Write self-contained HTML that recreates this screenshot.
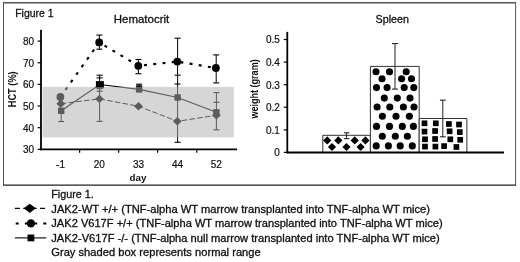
<!DOCTYPE html>
<html><head><meta charset="utf-8"><title>Figure 1</title>
<style>html,body{margin:0;padding:0;background:#fff;overflow:hidden}svg{display:block}text{font-family:"Liberation Sans",Arial,sans-serif;fill:#111}</style></head><body>
<svg width="520" height="262" viewBox="0 0 520 262">
<rect width="520" height="262" fill="#fff"/>
<path d="M3.5 185.2V2.9M515.6 2.9V185.2" fill="none" stroke="#555" stroke-width="1"/>
<path d="M3 185.2H516.1" fill="none" stroke="#222" stroke-width="1.2"/>
<path d="M3 2.7H516" fill="none" stroke="#555" stroke-width="1.4"/>
<text x="15.2" y="16.6" font-size="11" stroke="#111" stroke-width="0.3" textLength="38.4" lengthAdjust="spacingAndGlyphs">Figure 1</text>
<text x="113.8" y="22.7" font-size="11" stroke="#111" stroke-width="0.3" textLength="55.4" lengthAdjust="spacingAndGlyphs">Hematocrit</text>
<text x="375.6" y="22.7" font-size="11" stroke="#111" stroke-width="0.3" textLength="33.4" lengthAdjust="spacingAndGlyphs">Spleen</text>
<path d="M41.0 29.8V150.2" stroke="#000" stroke-width="1.8" fill="none"/>
<path d="M40.1 149.3H237" stroke="#000" stroke-width="1.8" fill="none"/>
<path d="M37.6 41.1H41.0" stroke="#000" stroke-width="1.2"/>
<text x="34" y="45.0" font-size="10" stroke="#111" stroke-width="0.2" text-anchor="end">80</text>
<path d="M37.6 62.8H41.0" stroke="#000" stroke-width="1.2"/>
<text x="34" y="66.7" font-size="10" stroke="#111" stroke-width="0.2" text-anchor="end">70</text>
<path d="M37.6 84.4H41.0" stroke="#000" stroke-width="1.2"/>
<text x="34" y="88.30000000000001" font-size="10" stroke="#111" stroke-width="0.2" text-anchor="end">60</text>
<path d="M37.6 106.0H41.0" stroke="#000" stroke-width="1.2"/>
<text x="34" y="109.9" font-size="10" stroke="#111" stroke-width="0.2" text-anchor="end">50</text>
<path d="M37.6 127.7H41.0" stroke="#000" stroke-width="1.2"/>
<text x="34" y="131.6" font-size="10" stroke="#111" stroke-width="0.2" text-anchor="end">40</text>
<path d="M37.6 149.3H41.0" stroke="#000" stroke-width="1.2"/>
<text x="34" y="153.20000000000002" font-size="10" stroke="#111" stroke-width="0.2" text-anchor="end">30</text>
<path d="M79.6 149.3V152.8" stroke="#000" stroke-width="1.2"/>
<path d="M118.7 149.3V152.8" stroke="#000" stroke-width="1.2"/>
<path d="M157.6 149.3V152.8" stroke="#000" stroke-width="1.2"/>
<path d="M196.8 149.3V152.8" stroke="#000" stroke-width="1.2"/>
<text x="60.5" y="168.2" font-size="10" stroke="#111" stroke-width="0.2" text-anchor="middle">-1</text>
<text x="99.3" y="168.2" font-size="10" stroke="#111" stroke-width="0.2" text-anchor="middle">20</text>
<text x="138.5" y="168.2" font-size="10" stroke="#111" stroke-width="0.2" text-anchor="middle">33</text>
<text x="177.5" y="168.2" font-size="10" stroke="#111" stroke-width="0.2" text-anchor="middle">44</text>
<text x="216.3" y="168.2" font-size="10" stroke="#111" stroke-width="0.2" text-anchor="middle">52</text>
<text x="138" y="181" font-size="9.8" font-weight="bold" text-anchor="middle">day</text>
<text transform="translate(16.2 107.3) rotate(-90)" font-size="10.2" font-weight="bold" textLength="36" lengthAdjust="spacingAndGlyphs">HCT (%)</text>
<path d="M99.4 35.1V49.2" stroke="#000" stroke-width="1" fill="none"/>
<path d="M96.4 35.1H102.4" stroke="#000" stroke-width="1.1" fill="none"/>
<path d="M96.4 49.2H102.4" stroke="#000" stroke-width="1.1" fill="none"/>
<path d="M138.4 59.5V73.7" stroke="#000" stroke-width="1" fill="none"/>
<path d="M135.4 59.5H141.4" stroke="#000" stroke-width="1.1" fill="none"/>
<path d="M135.4 73.7H141.4" stroke="#000" stroke-width="1.1" fill="none"/>
<path d="M177.6 38.2V142.3" stroke="#000" stroke-width="1" fill="none"/>
<path d="M174.6 38.2H180.6" stroke="#000" stroke-width="1.1" fill="none"/>
<path d="M174.6 75.2H180.6" stroke="#000" stroke-width="1.1" fill="none"/>
<path d="M174.6 84H180.6" stroke="#000" stroke-width="1.1" fill="none"/>
<path d="M174.6 142.3H180.6" stroke="#000" stroke-width="1.1" fill="none"/>
<path d="M216.2 54.9V82.9" stroke="#000" stroke-width="1" fill="none"/>
<path d="M213.2 54.9H219.2" stroke="#000" stroke-width="1.1" fill="none"/>
<path d="M213.2 82.9H219.2" stroke="#000" stroke-width="1.1" fill="none"/>
<path d="M61.2 110V121.5" stroke="#000" stroke-width="1" fill="none"/>
<path d="M58.2 121.5H64.2" stroke="#000" stroke-width="1.1" fill="none"/>
<path d="M99.6 75.3V121.4" stroke="#000" stroke-width="1" fill="none"/>
<path d="M96.6 75.2H102.6" stroke="#000" stroke-width="1.1" fill="none"/>
<path d="M96.6 77.9H102.6" stroke="#000" stroke-width="1.1" fill="none"/>
<path d="M96.6 88.7H102.6" stroke="#000" stroke-width="1.1" fill="none"/>
<path d="M96.6 91.2H102.6" stroke="#000" stroke-width="1.1" fill="none"/>
<path d="M96.6 121.4H102.6" stroke="#000" stroke-width="1.1" fill="none"/>
<path d="M139.1 84.2V89" stroke="#000" stroke-width="1" fill="none"/>
<path d="M136.1 84.2H142.1" stroke="#000" stroke-width="1.1" fill="none"/>
<path d="M136.1 85.8H142.1" stroke="#000" stroke-width="1.1" fill="none"/>
<path d="M216.4 92.6V129.8" stroke="#000" stroke-width="1" fill="none"/>
<path d="M213.4 92.6H219.4" stroke="#000" stroke-width="1.1" fill="none"/>
<path d="M213.4 102.3H219.4" stroke="#000" stroke-width="1.1" fill="none"/>
<path d="M213.4 129.8H219.4" stroke="#000" stroke-width="1.1" fill="none"/>
<polyline points="61.2,110.8 99.8,84.5 139.1,89.4 177.6,97.5 216.4,112.3" fill="none" stroke="#000" stroke-width="1.1"/>
<polyline points="60.8,103.7 99.4,98.9 138.5,106.2 177.3,121.3 216.4,115.3" fill="none" stroke="#000" stroke-width="1.0" stroke-dasharray="5.6 2.2"/>
<path d="M60.4 97L99.2 42.4" fill="none" stroke="#000" stroke-width="2.1" stroke-dasharray="3 6.300000000000001" stroke-dashoffset="0.60"/>
<path d="M99.2 42.4L138.3 65.8" fill="none" stroke="#000" stroke-width="2.1" stroke-dasharray="3 6.300000000000001" stroke-dashoffset="3.10"/>
<path d="M138.3 65.8L177.3 61.6" fill="none" stroke="#000" stroke-width="2.1" stroke-dasharray="3 6.300000000000001" stroke-dashoffset="3.60"/>
<path d="M177.3 61.6L215.9 68" fill="none" stroke="#000" stroke-width="2.1" stroke-dasharray="3 6.300000000000001" stroke-dashoffset="6.20"/>
<path d="M56.4 103.7L60.8 99.5L65.2 103.7L60.8 107.9Z" fill="#000"/>
<path d="M95.0 98.9L99.4 94.7L103.80000000000001 98.9L99.4 103.10000000000001Z" fill="#000"/>
<path d="M134.1 106.2L138.5 102.0L142.9 106.2L138.5 110.4Z" fill="#000"/>
<path d="M172.9 121.3L177.3 117.1L181.70000000000002 121.3L177.3 125.5Z" fill="#000"/>
<path d="M212.0 115.3L216.4 111.1L220.8 115.3L216.4 119.5Z" fill="#000"/>
<rect x="58.0" y="107.6" width="6.4" height="6.4" fill="#000"/>
<rect x="95.9" y="81.1" width="8" height="7.2" fill="#000"/>
<rect x="135.9" y="86.2" width="6.4" height="6.4" fill="#000"/>
<rect x="174.4" y="94.3" width="6.4" height="6.4" fill="#000"/>
<rect x="213.20000000000002" y="109.1" width="6.4" height="6.4" fill="#000"/>
<circle cx="60.4" cy="97" r="3.9" fill="#000"/>
<circle cx="99.2" cy="42.4" r="3.9" fill="#000"/>
<circle cx="138.3" cy="65.8" r="3.9" fill="#000"/>
<circle cx="177.3" cy="61.6" r="3.9" fill="#000"/>
<circle cx="215.9" cy="68" r="3.9" fill="#000"/>
<rect x="42.6" y="86.9" width="191.2" height="50.5" fill="#b0b0b0" fill-opacity="0.52"/>
<path d="M283.8 39.5H287.3" stroke="#000" stroke-width="1.2"/>
<text x="279.8" y="43.4" font-size="10" stroke="#111" stroke-width="0.2" text-anchor="end">0.5</text>
<path d="M283.8 62.1H287.3" stroke="#000" stroke-width="1.2"/>
<text x="279.8" y="66.0" font-size="10" stroke="#111" stroke-width="0.2" text-anchor="end">0.4</text>
<path d="M283.8 84.7H287.3" stroke="#000" stroke-width="1.2"/>
<text x="279.8" y="88.60000000000001" font-size="10" stroke="#111" stroke-width="0.2" text-anchor="end">0.3</text>
<path d="M283.8 107.2H287.3" stroke="#000" stroke-width="1.2"/>
<text x="279.8" y="111.10000000000001" font-size="10" stroke="#111" stroke-width="0.2" text-anchor="end">0.2</text>
<path d="M283.8 129.9H287.3" stroke="#000" stroke-width="1.2"/>
<text x="279.8" y="133.8" font-size="10" stroke="#111" stroke-width="0.2" text-anchor="end">0.1</text>
<path d="M283.8 152.4H287.3" stroke="#000" stroke-width="1.2"/>
<text x="279.8" y="156.3" font-size="10" stroke="#111" stroke-width="0.2" text-anchor="end">0</text>
<text transform="translate(258.1 118.6) rotate(-90)" font-size="10.2" font-weight="bold" textLength="59.3" lengthAdjust="spacingAndGlyphs">weight (gram)</text>
<path d="M322.8 152.3V135.3H370.4V152.3" fill="#fff" stroke="#333" stroke-width="1"/>
<path d="M370.4 152.3V66.4H419.2V152.3" fill="#fff" stroke="#333" stroke-width="1"/>
<path d="M419.2 152.3V118.5H466.9V152.3" fill="#fff" stroke="#333" stroke-width="1"/>
<path d="M323.09999999999997 140.4L327.2 136.3L331.3 140.4L327.2 144.5Z" fill="#000"/>
<path d="M334.2 140.4L338.3 136.3L342.40000000000003 140.4L338.3 144.5Z" fill="#000"/>
<path d="M350.59999999999997 140.4L354.7 136.3L358.8 140.4L354.7 144.5Z" fill="#000"/>
<path d="M361.29999999999995 140.4L365.4 136.3L369.5 140.4L365.4 144.5Z" fill="#000"/>
<path d="M327.9 147L332 142.9L336.1 147L332 151.1Z" fill="#000"/>
<path d="M342.4 147L346.5 142.9L350.6 147L346.5 151.1Z" fill="#000"/>
<path d="M356.5 147L360.6 142.9L364.70000000000005 147L360.6 151.1Z" fill="#000"/>
<path d="M346.6 132.8V138.6" stroke="#222" stroke-width="1" fill="none"/>
<path d="M343.90000000000003 132.8H349.3" stroke="#222" stroke-width="1.1" fill="none"/>
<path d="M343.90000000000003 138.6H349.3" stroke="#222" stroke-width="1.1" fill="none"/>
<circle cx="376" cy="71.8" r="3.55" fill="#000"/>
<circle cx="389.5" cy="71.8" r="3.55" fill="#000"/>
<circle cx="406.2" cy="71.8" r="3.55" fill="#000"/>
<circle cx="382" cy="78.7" r="3.55" fill="#000"/>
<circle cx="401.6" cy="78.7" r="3.55" fill="#000"/>
<circle cx="411.5" cy="78.7" r="3.55" fill="#000"/>
<circle cx="376.5" cy="87.6" r="3.55" fill="#000"/>
<circle cx="387.1" cy="87.6" r="3.55" fill="#000"/>
<circle cx="404.2" cy="87.6" r="3.55" fill="#000"/>
<circle cx="413.8" cy="87.6" r="3.55" fill="#000"/>
<circle cx="384.3" cy="98.1" r="3.55" fill="#000"/>
<circle cx="397.3" cy="98.1" r="3.55" fill="#000"/>
<circle cx="410" cy="98.1" r="3.55" fill="#000"/>
<circle cx="377.1" cy="107" r="3.55" fill="#000"/>
<circle cx="389.8" cy="107" r="3.55" fill="#000"/>
<circle cx="403.4" cy="107" r="3.55" fill="#000"/>
<circle cx="414" cy="107" r="3.55" fill="#000"/>
<circle cx="382.4" cy="116.3" r="3.55" fill="#000"/>
<circle cx="396" cy="116.3" r="3.55" fill="#000"/>
<circle cx="409.4" cy="116.3" r="3.55" fill="#000"/>
<circle cx="376.5" cy="126.4" r="3.55" fill="#000"/>
<circle cx="389.5" cy="126.4" r="3.55" fill="#000"/>
<circle cx="402.3" cy="126.4" r="3.55" fill="#000"/>
<circle cx="413.4" cy="126.4" r="3.55" fill="#000"/>
<circle cx="382.3" cy="136.3" r="3.55" fill="#000"/>
<circle cx="395.3" cy="136.3" r="3.55" fill="#000"/>
<circle cx="407.4" cy="136.3" r="3.55" fill="#000"/>
<circle cx="376.2" cy="145.9" r="3.55" fill="#000"/>
<circle cx="388.4" cy="145.9" r="3.55" fill="#000"/>
<circle cx="400.2" cy="145.9" r="3.55" fill="#000"/>
<circle cx="412.3" cy="145.9" r="3.55" fill="#000"/>
<path d="M395 43.6V89.1" stroke="#222" stroke-width="1" fill="none"/>
<path d="M392.0 43.6H398.0" stroke="#222" stroke-width="1.1" fill="none"/>
<path d="M392.0 89.1H398.0" stroke="#222" stroke-width="1.1" fill="none"/>
<rect x="421.65" y="120.45" width="5.7" height="5.7" fill="#000"/>
<rect x="432.95" y="120.45" width="5.7" height="5.7" fill="#000"/>
<rect x="446.04999999999995" y="121.15" width="5.7" height="5.7" fill="#000"/>
<rect x="456.15" y="121.65" width="5.7" height="5.7" fill="#000"/>
<rect x="421.65" y="128.75" width="5.7" height="5.7" fill="#000"/>
<rect x="432.25" y="128.15" width="5.7" height="5.7" fill="#000"/>
<rect x="446.75" y="128.45000000000002" width="5.7" height="5.7" fill="#000"/>
<rect x="456.95" y="129.25" width="5.7" height="5.7" fill="#000"/>
<rect x="422.15" y="136.45000000000002" width="5.7" height="5.7" fill="#000"/>
<rect x="432.25" y="136.15" width="5.7" height="5.7" fill="#000"/>
<rect x="447.45" y="136.45000000000002" width="5.7" height="5.7" fill="#000"/>
<rect x="457.34999999999997" y="136.95000000000002" width="5.7" height="5.7" fill="#000"/>
<rect x="422.15" y="143.75" width="5.7" height="5.7" fill="#000"/>
<rect x="432.54999999999995" y="143.75" width="5.7" height="5.7" fill="#000"/>
<rect x="441.25" y="143.25" width="5.7" height="5.7" fill="#000"/>
<rect x="453.54999999999995" y="144.15" width="5.7" height="5.7" fill="#000"/>
<path d="M442.8 100.2V136.8" stroke="#222" stroke-width="1" fill="none"/>
<path d="M439.90000000000003 100.2H445.7" stroke="#222" stroke-width="1.1" fill="none"/>
<path d="M439.90000000000003 136.8H445.7" stroke="#222" stroke-width="1.1" fill="none"/>
<path d="M287.3 31.9V153.2" stroke="#000" stroke-width="1.8" fill="none"/>
<path d="M286.40000000000003 152.5H504" stroke="#000" stroke-width="1.8" fill="none"/>
<path d="M14.9 208.3H45.1" stroke="#000" stroke-width="1.3" stroke-dasharray="5 3.37" fill="none"/>
<path d="M23.7 208.3L29.8 203.7L35.9 208.3L29.8 212.9Z" fill="#000"/>
<path d="M15.7 223.4H46.5" stroke="#000" stroke-width="2" stroke-dasharray="3 6.2" fill="none"/>
<circle cx="30.9" cy="223.4" r="4.15" fill="#000"/>
<path d="M14.9 237.9H46.3" stroke="#222" stroke-width="1.1" fill="none"/>
<rect x="27.5" y="234.5" width="6.8" height="6.8" fill="#000"/>
<text x="51.3" y="198" font-size="10.3" stroke="#111" stroke-width="0.3" textLength="42.4" lengthAdjust="spacingAndGlyphs">Figure 1.</text>
<text x="51.3" y="212.5" font-size="10.3" stroke="#111" stroke-width="0.3" textLength="378.7" lengthAdjust="spacingAndGlyphs">JAK2-WT +/+ (TNF-alpha WT marrow transplanted into TNF-alpha WT mice)</text>
<text x="51.3" y="227.4" font-size="10.3" stroke="#111" stroke-width="0.3" textLength="391.3" lengthAdjust="spacingAndGlyphs">JAK2 V617F +/+ (TNF-alpha WT marrow transplanted into TNF-alpha WT mice)</text>
<text x="51.3" y="241.7" font-size="10.3" stroke="#111" stroke-width="0.3" textLength="388.4" lengthAdjust="spacingAndGlyphs">JAK2-V617F -/- (TNF-alpha null marrow transplanted into TNF-alpha WT mice)</text>
<text x="51.3" y="256" font-size="10.3" stroke="#111" stroke-width="0.3" textLength="209.4" lengthAdjust="spacingAndGlyphs">Gray shaded box represents normal range</text>
</svg></body></html>
